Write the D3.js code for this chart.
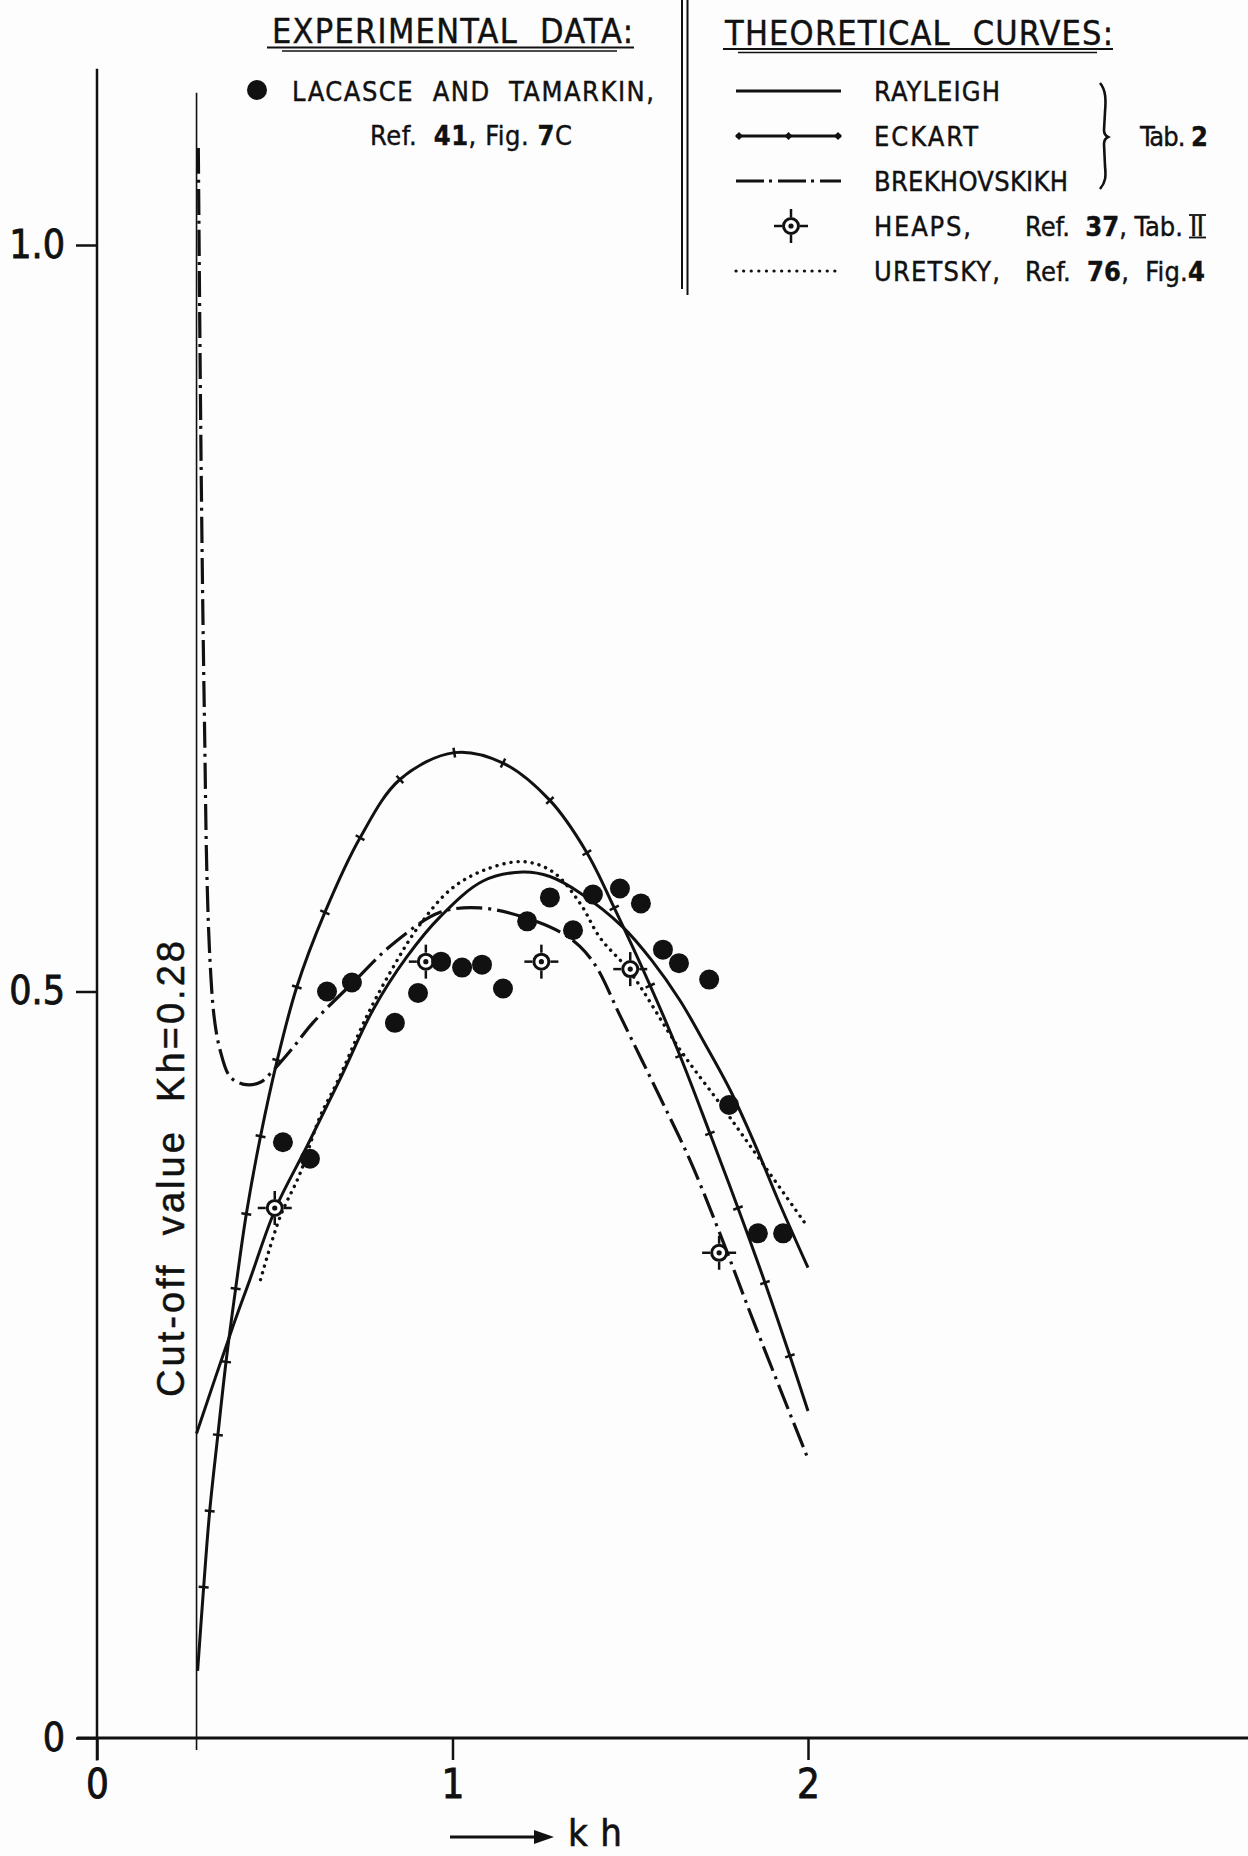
<!DOCTYPE html>
<html>
<head>
<meta charset="utf-8">
<script src="https://cdn.jsdelivr.net/npm/d3@7"></script>
<style>
  html, body { margin: 0; padding: 0; background: #fff; }
  svg text { white-space: pre; }
</style>
</head>
<body>
<svg id="chart" width="1248" height="1856"></svg>
<script>
// ---- data: kh on the x axis, cut-off value on the y axis ----
const xTicks = [0, 1, 2];
const xTickLabels = ["0", "1", "2"];
const yTicks = [0, 0.5, 1.0];
const yTickLabels = ["0", "0.5", "1.0"];
const cutoffKh = 0.28;

// theoretical curves, [kh, value]
const rayleigh = [
  [0.28, 0.204], [0.377, 0.272], [0.43, 0.307], [0.503, 0.355], [0.59, 0.396],
  [0.683, 0.441], [0.777, 0.488], [0.871, 0.523], [0.965, 0.550], [1.086, 0.574],
  [1.198, 0.580], [1.274, 0.577], [1.359, 0.566], [1.48, 0.543], [1.56, 0.521],
  [1.64, 0.494], [1.71, 0.465], [1.781, 0.434], [1.85, 0.398], [1.92, 0.358],
  [2.0, 0.315]
];
const eckart = [
  [0.283, 0.045], [0.300, 0.101], [0.317, 0.152], [0.340, 0.203], [0.363, 0.252],
  [0.390, 0.301], [0.420, 0.351], [0.460, 0.403], [0.507, 0.454], [0.562, 0.503],
  [0.641, 0.553], [0.740, 0.603], [0.852, 0.642], [1.005, 0.660], [1.142, 0.653],
  [1.274, 0.628], [1.378, 0.593], [1.455, 0.556], [1.556, 0.504], [1.640, 0.457],
  [1.724, 0.405], [1.803, 0.355], [1.879, 0.305], [1.949, 0.256], [2.0, 0.219]
];
const brekhovskikh = [
  [0.285, 1.065], [0.289, 0.95], [0.293, 0.85], [0.298, 0.75], [0.303, 0.67],
  [0.309, 0.58], [0.318, 0.52], [0.330, 0.482], [0.346, 0.461], [0.374, 0.443],
  [0.410, 0.438], [0.458, 0.439], [0.495, 0.447], [0.550, 0.462], [0.607, 0.479],
  [0.720, 0.506], [0.833, 0.532], [0.965, 0.553], [1.077, 0.556], [1.198, 0.550],
  [1.302, 0.540], [1.359, 0.530], [1.406, 0.516], [1.471, 0.484], [1.584, 0.429],
  [1.668, 0.387], [1.752, 0.338], [1.850, 0.277], [2.0, 0.187]
];
const uretsky = [
  [0.46, 0.307], [0.515, 0.349], [0.571, 0.378], [0.627, 0.416], [0.675, 0.439],
  [0.76, 0.484], [0.83, 0.515], [0.90, 0.542], [0.993, 0.568], [1.086, 0.581],
  [1.198, 0.587], [1.283, 0.580], [1.359, 0.559], [1.415, 0.536], [1.50, 0.513],
  [1.64, 0.461], [1.752, 0.425], [1.845, 0.394], [2.0, 0.342]
];

// Heaps, Ref. 37, Tab. II
const heapsKh  = [0.5, 0.925, 1.25, 1.5, 1.75];
const heapsVal = [0.355, 0.52, 0.52, 0.515, 0.325];

// LaCasce and Tamarkin, Ref. 41, Fig. 7C
const lacasceKh  = [0.523, 0.599, 0.647, 0.717, 0.838, 0.903, 0.968, 1.027, 1.083, 1.142, 1.210,
                    1.274, 1.339, 1.395, 1.471, 1.530, 1.592, 1.637, 1.722, 1.778, 1.859, 1.930];
const lacasceVal = [0.399, 0.388, 0.500, 0.506, 0.479, 0.499, 0.520, 0.516, 0.518, 0.502, 0.547,
                    0.563, 0.541, 0.565, 0.569, 0.559, 0.528, 0.519, 0.508, 0.424, 0.338, 0.338];

// ---- drawing ----
const W = 1248, H = 1856;
const FONT = "'Liberation Sans Narrow','DejaVu Sans Condensed','Liberation Sans',Arial,sans-serif";
const INK = "#111";

const svg = d3.select("#chart");
svg.append("rect").attr("width", W).attr("height", H).attr("fill", "#fdfdfd");

const x = d3.scaleLinear().domain([0, 2]).range([97, 808]);
const y = d3.scaleLinear().domain([0, 1]).range([1738, 245]);

// axis lines, crossing at the origin
svg.append("line")
  .attr("x1", x(-0.056)).attr("x2", W).attr("y1", y(0)).attr("y2", y(0))
  .attr("stroke", INK).attr("stroke-width", 3);
svg.append("line")
  .attr("x1", x(0)).attr("x2", x(0)).attr("y1", y(1.118)).attr("y2", y(-0.015))
  .attr("stroke", INK).attr("stroke-width", 2.5);

const xAxis = d3.axisBottom(x).tickValues(xTicks)
  .tickFormat((d, i) => xTickLabels[i]).tickSize(22).tickPadding(10);
const gx = svg.append("g").attr("transform", `translate(0,${y(0)})`).call(xAxis);
gx.select(".domain").remove();
gx.selectAll(".tick line").attr("stroke", INK).attr("stroke-width", 2.5);
gx.selectAll(".tick text").attr("font-family", FONT).attr("font-size", 40)
  .attr("fill", INK).attr("stroke", INK).attr("stroke-width", 0.8);

const yAxis = d3.axisLeft(y).tickValues(yTicks)
  .tickFormat((d, i) => yTickLabels[i]).tickSize(21).tickPadding(11);
const gy = svg.append("g").attr("transform", `translate(${x(0)},0)`).call(yAxis);
gy.select(".domain").remove();
gy.selectAll(".tick line").attr("stroke", INK).attr("stroke-width", 2.5);
gy.selectAll(".tick text").attr("font-family", FONT).attr("font-size", 39)
  .attr("fill", INK).attr("stroke", INK).attr("stroke-width", 0.8);

// cut-off line kh = 0.28
svg.append("line")
  .attr("x1", x(cutoffKh)).attr("x2", x(cutoffKh))
  .attr("y1", y(1.102)).attr("y2", y(-0.008))
  .attr("stroke", INK).attr("stroke-width", 1.6);

// y-axis title, rotated
svg.append("text")
  .attr("transform", `translate(184,1169) rotate(-90)`)
  .attr("text-anchor", "middle")
  .attr("font-family", "'Liberation Sans',Arial,sans-serif")
  .attr("font-size", 38).attr("fill", INK)
  .attr("stroke", INK).attr("stroke-width", 0.5)
  .attr("textLength", 456).attr("lengthAdjust", "spacing")
  .text("Cut-off  value  Kh=0.28");

// x-axis title with arrow
svg.append("line").attr("x1", 450).attr("x2", 540).attr("y1", 1837).attr("y2", 1837)
  .attr("stroke", INK).attr("stroke-width", 3);
svg.append("path").attr("d", "M534,1830 L554,1837 L534,1844 Z").attr("fill", INK);
svg.append("text").attr("x", 568).attr("y", 1846)
  .attr("font-family", FONT).attr("font-size", 38).attr("fill", INK)
  .attr("stroke", INK).attr("stroke-width", 0.6)
  .attr("textLength", 54).attr("lengthAdjust", "spacing").text("kh");

// ---- curves ----
const line = d3.line()
  .x(d => x(d[0])).y(d => y(d[1]))
  .curve(d3.curveCatmullRom.alpha(0.5));

svg.append("path").datum(rayleigh).attr("d", line)
  .attr("fill", "none").attr("stroke", INK).attr("stroke-width", 3);

svg.append("path").datum(eckart).attr("d", line)
  .attr("fill", "none").attr("stroke", INK).attr("stroke-width", 3);

// cross ticks along the Eckart curve
const ePts = eckart.map(d => [x(d[0]), y(d[1])]);
ePts.forEach((p, i) => {
  if (i === 0 || i === ePts.length - 1) return;
  const a = ePts[i - 1], b = ePts[i + 1];
  const dx = b[0] - a[0], dy = b[1] - a[1], L = Math.hypot(dx, dy);
  const nx = -dy / L * 5, ny = dx / L * 5;
  svg.append("line")
    .attr("x1", p[0] - nx).attr("y1", p[1] - ny)
    .attr("x2", p[0] + nx).attr("y2", p[1] + ny)
    .attr("stroke", INK).attr("stroke-width", 2.5);
});

svg.append("path").datum(brekhovskikh).attr("d", line)
  .attr("fill", "none").attr("stroke", INK).attr("stroke-width", 3.2)
  .attr("stroke-dasharray", "26 6 3 6");

svg.append("path").datum(uretsky).attr("d", line)
  .attr("fill", "none").attr("stroke", INK).attr("stroke-width", 3.4)
  .attr("stroke-linecap", "round").attr("stroke-dasharray", "0.1 7");

// ---- markers ----
function heapsMark(g, cx, cy) {
  const m = g.append("g").attr("transform", `translate(${cx},${cy})`);
  [[0, -1], [0, 1], [-1, 0], [1, 0]].forEach(([ux, uy]) => {
    m.append("line").attr("x1", ux * 9).attr("y1", uy * 9)
      .attr("x2", ux * 17).attr("y2", uy * 17)
      .attr("stroke", INK).attr("stroke-width", 2.5);
  });
  m.append("circle").attr("r", 7.5).attr("fill", "#fff")
    .attr("stroke", INK).attr("stroke-width", 3);
  m.append("circle").attr("r", 2.6).attr("fill", INK);
}

heapsKh.forEach((k, i) => heapsMark(svg, x(k), y(heapsVal[i])));

svg.append("g").selectAll("circle")
  .data(lacasceKh.map((k, i) => [k, lacasceVal[i]]))
  .join("circle")
  .attr("cx", d => x(d[0])).attr("cy", d => y(d[1]))
  .attr("r", 10).attr("fill", INK);

// ---- legend ----
function legendText(px, py, parts, size, len, anchor) {
  const t = svg.append("text").attr("x", px).attr("y", py)
    .attr("font-family", FONT).attr("font-size", size).attr("fill", INK)
    .attr("stroke", INK).attr("stroke-width", 0.4)
    .attr("text-anchor", anchor || "start");
  parts.forEach(p => {
    t.append("tspan").attr("font-weight", p[1] ? "bold" : "normal").text(p[0]);
  });
  if (len) t.attr("textLength", len).attr("lengthAdjust", "spacing");
  return t;
}

// headings with double underline
legendText(272, 43, [["EXPERIMENTAL  DATA:"]], 34, 361);
svg.append("line").attr("x1", 267).attr("x2", 634).attr("y1", 47.5).attr("y2", 47.5)
  .attr("stroke", INK).attr("stroke-width", 2.2);
svg.append("line").attr("x1", 282).attr("x2", 617).attr("y1", 51).attr("y2", 51)
  .attr("stroke", INK).attr("stroke-width", 1.4);

legendText(725, 45, [["THEORETICAL  CURVES:"]], 34, 388);
svg.append("line").attr("x1", 723).attr("x2", 1113).attr("y1", 49).attr("y2", 49)
  .attr("stroke", INK).attr("stroke-width", 2.2);
svg.append("line").attr("x1", 738).attr("x2", 1097).attr("y1", 52.5).attr("y2", 52.5)
  .attr("stroke", INK).attr("stroke-width", 1.4);

// double divider
svg.append("line").attr("x1", 682).attr("x2", 682).attr("y1", 0).attr("y2", 289)
  .attr("stroke", INK).attr("stroke-width", 2);
svg.append("line").attr("x1", 687.5).attr("x2", 687.5).attr("y1", 0).attr("y2", 295)
  .attr("stroke", INK).attr("stroke-width", 2);

// experimental data entry
svg.append("circle").attr("cx", 257).attr("cy", 90).attr("r", 10).attr("fill", INK);
legendText(292, 101, [["LACASCE  AND  TAMARKIN,"]], 27, 362);
legendText(370, 145, [["Ref.  "], ["41", true], [", Fig. "], ["7", true], ["C"]], 27, 202);

// theoretical curve entries
const lx1 = 736, lx2 = 841, tx = 874;
const rows = [101, 146, 191, 236, 281];
const rowMid = rows.map(r => r - 10);

svg.append("line").attr("x1", lx1).attr("x2", lx2).attr("y1", rowMid[0]).attr("y2", rowMid[0])
  .attr("stroke", INK).attr("stroke-width", 3);
legendText(tx, rows[0], [["RAYLEIGH"]], 27, 126);

svg.append("line").attr("x1", lx1).attr("x2", lx2).attr("y1", rowMid[1]).attr("y2", rowMid[1])
  .attr("stroke", INK).attr("stroke-width", 3);
[lx1 + 3, (lx1 + lx2) / 2, lx2 - 3].forEach(px => {
  svg.append("path")
    .attr("d", `M${px - 4},${rowMid[1]} L${px},${rowMid[1] - 4} L${px + 4},${rowMid[1]} L${px},${rowMid[1] + 4} Z`)
    .attr("fill", INK);
});
legendText(tx, rows[1], [["ECKART"]], 27, 104);

svg.append("line").attr("x1", lx1).attr("x2", lx2).attr("y1", rowMid[2]).attr("y2", rowMid[2])
  .attr("stroke", INK).attr("stroke-width", 3).attr("stroke-dasharray", "28 5 3 6");
legendText(tx, rows[2], [["BREKHOVSKIKH"]], 27, 194);

heapsMark(svg, 791, rowMid[3]);
legendText(tx, rows[3], [["HEAPS,"]], 27, 97);
legendText(1025, rows[3], [["Ref.  "], ["37", true], [", Tab."]], 27, 158);
legendText(1190, rows[3], [["II"]], 27, 14);
svg.append("line").attr("x1", 1189).attr("x2", 1206).attr("y1", rows[3] - 21).attr("y2", rows[3] - 21)
  .attr("stroke", INK).attr("stroke-width", 1.8);
svg.append("line").attr("x1", 1189).attr("x2", 1206).attr("y1", rows[3] + 1.5).attr("y2", rows[3] + 1.5)
  .attr("stroke", INK).attr("stroke-width", 1.8);

svg.append("line").attr("x1", lx1).attr("x2", lx2).attr("y1", rowMid[4]).attr("y2", rowMid[4])
  .attr("stroke", INK).attr("stroke-width", 3.2)
  .attr("stroke-linecap", "round").attr("stroke-dasharray", "0.1 7.5");
legendText(tx, rows[4], [["URETSKY,"]], 27, 126);
legendText(1025, rows[4], [["Ref.  "], ["76", true], [",  Fig."], ["4", true]], 27, 180);

// brace grouping the three Tab. 2 curves
svg.append("path")
  .attr("d", "M1100,83 C1106,90 1106,100 1105,112 L1104,130 C1104,134 1106,136 1108,137 " +
             "C1106,138 1104,140 1104,144 L1105,166 C1106,176 1106,182 1100,189")
  .attr("fill", "none").attr("stroke", INK).attr("stroke-width", 2.6);
legendText(1140, 146, [["Tab. "], ["2", true]], 27, 68);
</script>
</body>
</html>
